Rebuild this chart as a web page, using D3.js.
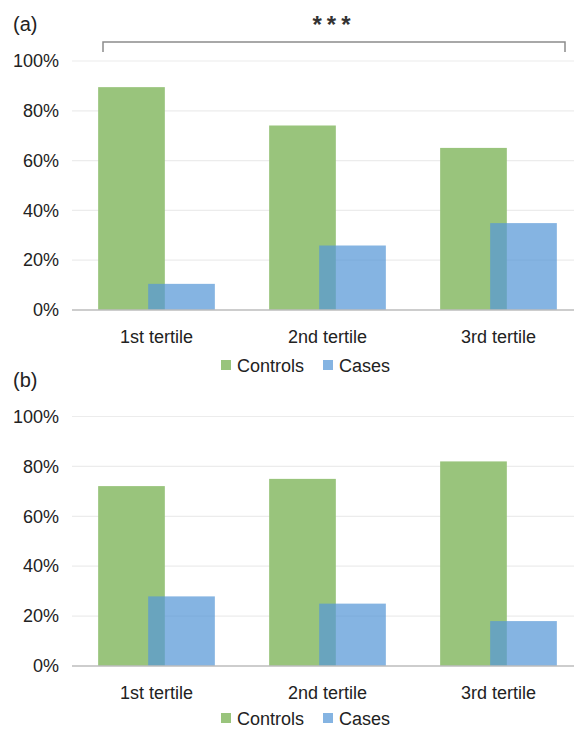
<!DOCTYPE html>
<html>
<head>
<meta charset="utf-8">
<script src="https://cdn.jsdelivr.net/npm/d3@7"></script>
<style>
    body { margin: 0; background: #fff; }
    svg { display: block; font-family: "Liberation Sans", Arial, sans-serif; }
</style>
</head>
<body>
<svg id="chart" width="574" height="729"></svg>
<script>
// Data
const categories = ['1st tertile', '2nd tertile', '3rd tertile'];
const seriesNames = ['Controls', 'Cases'];
const controlsA = [89.5, 74.1, 65.1];
const casesA = [10.5, 25.9, 34.9];
const controlsB = [72.1, 75.0, 82.0];
const casesB = [27.9, 25.0, 18.0];
const yTicks = [0, 20, 40, 60, 80, 100];

const green = '#99c47c';
const blue = 'rgb(88,152,215)';
const blueOpacity = 0.73;

const svg = d3.select('#chart');

const x = d3.scaleBand()
    .domain(categories)
    .range([71, 584])
    .padding(0);

function drawPanel(label, controls, cases, top, bottom, legendY, showBracket) {
    const g = svg.append('g');
    const y = d3.scaleLinear().domain([0, 100]).range([bottom, top]);

    // panel label
    g.append('text')
        .attr('x', 13)
        .attr('y', top - 30)
        .attr('font-size', 20)
        .attr('fill', '#222')
        .text(label);

    // gridlines
    g.append('g')
        .selectAll('line')
        .data(yTicks.filter(t => t > 0))
        .enter().append('line')
        .attr('x1', 72)
        .attr('x2', 574)
        .attr('y1', d => y(d))
        .attr('y2', d => y(d))
        .attr('stroke', '#ececec')
        .attr('stroke-width', 1.2);

    // y tick labels
    const yAxis = g.append('g')
        .attr('transform', 'translate(59,0)')
        .call(d3.axisLeft(y).tickValues(yTicks).tickSize(0).tickPadding(0).tickFormat(d => d + '%'));
    yAxis.select('.domain').remove();
    yAxis.selectAll('text')
        .attr('font-size', 18)
        .attr('fill', '#222')
        .attr('font-family', '"Liberation Sans", Arial, sans-serif');

    const bw = x.bandwidth();
    const w = bw * 0.39;
    const ov = bw * 0.0975;

    g.append('g')
        .selectAll('rect')
        .data(controls)
        .enter().append('rect')
        .attr('x', (d, i) => x(categories[i]) + bw / 2 - w + ov / 2)
        .attr('y', d => y(d))
        .attr('width', w)
        .attr('height', d => y(0) - y(d))
        .attr('fill', green);

    g.append('g')
        .selectAll('rect')
        .data(cases)
        .enter().append('rect')
        .attr('x', (d, i) => x(categories[i]) + bw / 2 - ov / 2)
        .attr('y', d => y(d))
        .attr('width', w)
        .attr('height', d => y(0) - y(d))
        .attr('fill', blue)
        .attr('fill-opacity', blueOpacity);

    // baseline
    g.append('line')
        .attr('x1', 72)
        .attr('x2', 574)
        .attr('y1', y(0))
        .attr('y2', y(0))
        .attr('stroke', '#bdbdbd')
        .attr('stroke-width', 1.5);

    // x labels
    g.append('g')
        .selectAll('text')
        .data(categories)
        .enter().append('text')
        .attr('x', d => x(d) + bw / 2)
        .attr('y', y(0) + 33)
        .attr('text-anchor', 'middle')
        .attr('font-size', 18)
        .attr('fill', '#222')
        .text(d => d);

    // legend
    const legend = g.append('g').attr('transform', `translate(0,${legendY})`);
    const legendItems = [
        { name: seriesNames[0], color: green, op: 1, x: 221 },
        { name: seriesNames[1], color: blue, op: blueOpacity, x: 323 }
    ];
    legendItems.forEach(it => {
        legend.append('rect')
            .attr('x', it.x)
            .attr('y', -5)
            .attr('width', 10)
            .attr('height', 10)
            .attr('fill', it.color)
            .attr('fill-opacity', it.op);
        legend.append('text')
            .attr('x', it.x + 16)
            .attr('y', 6.5)
            .attr('font-size', 18)
            .attr('fill', '#222')
            .text(it.name);
    });

    if (showBracket) {
        const bx0 = x(categories[0]) + 32;
        const bx1 = x(categories[categories.length - 1]) + bw - 19;
        const by = top - 19;
        g.append('path')
            .attr('d', `M${bx0},${by + 10}V${by}H${bx1}V${by + 10}`)
            .attr('fill', 'none')
            .attr('stroke', '#8c8c8c')
            .attr('stroke-width', 1.5);
        g.append('text')
            .attr('x', (bx0 + bx1) / 2)
            .attr('y', top - 28)
            .attr('text-anchor', 'middle')
            .attr('font-size', 24)
            .attr('font-weight', 'bold')
            .attr('letter-spacing', 5)
            .attr('fill', '#333')
            .text('***');
    }
}

drawPanel('(a)', controlsA, casesA, 61, 310, 365, true);
drawPanel('(b)', controlsB, casesB, 416.5, 666, 718, false);
</script>
</body>
</html>
